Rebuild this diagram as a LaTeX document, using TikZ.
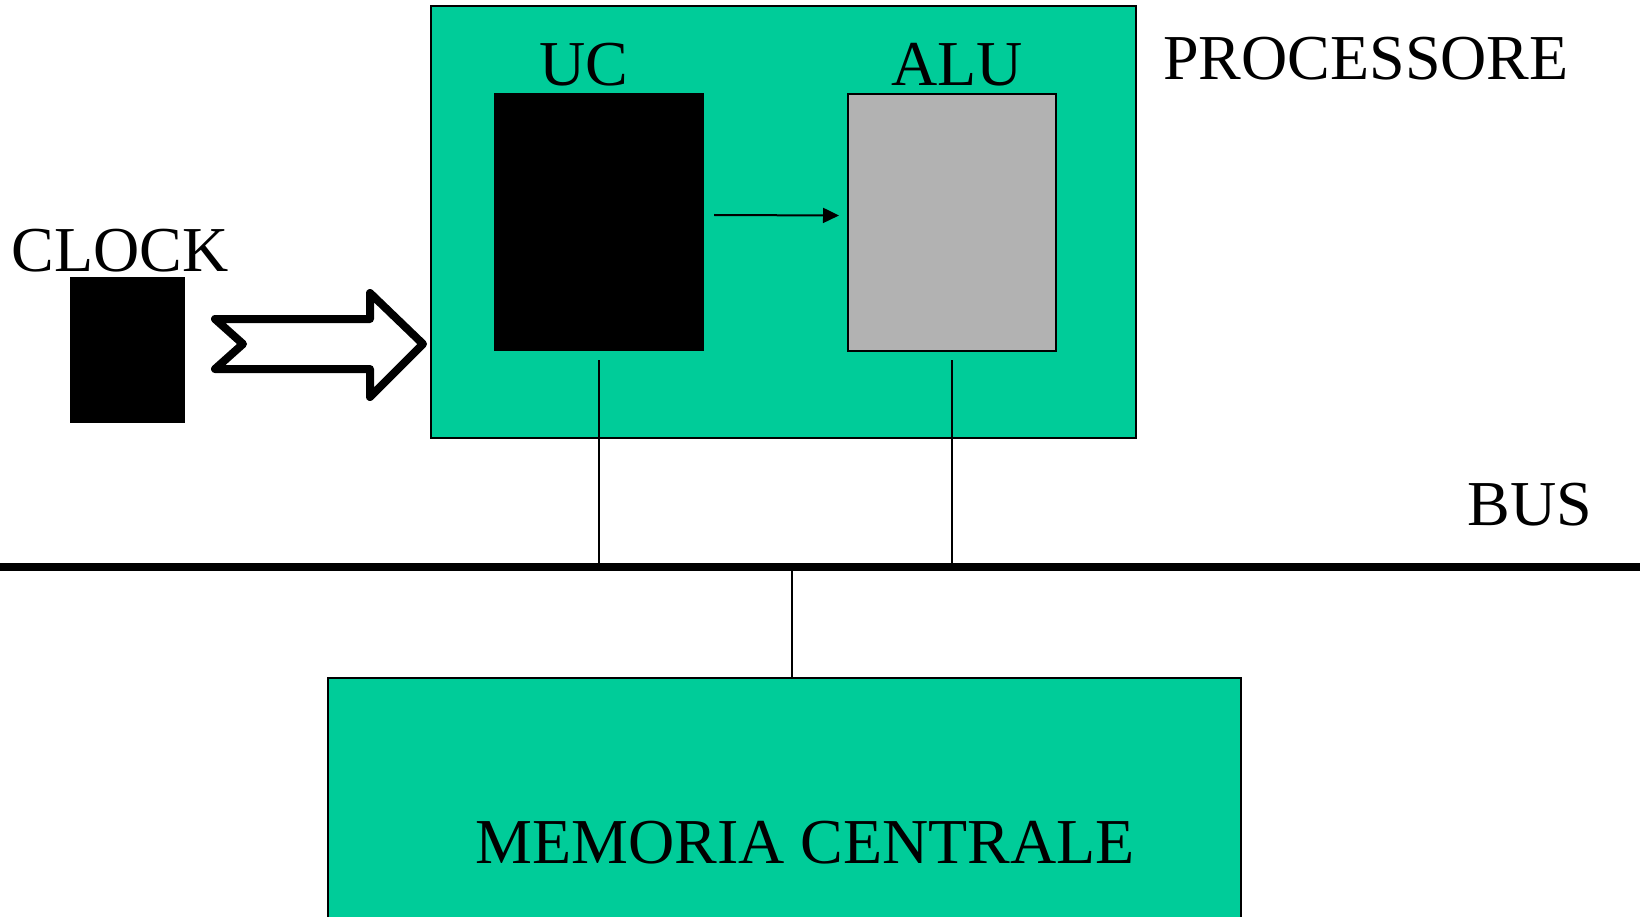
\documentclass[tikz,border=0pt]{standalone}
\usepackage{fontspec}
\setmainfont{Liberation Serif}
\usetikzlibrary{arrows.meta,positioning}
\definecolor{cpugreen}{RGB}{0,204,153}
\definecolor{alugray}{RGB}{178,178,178}

\begin{document}
\begin{tikzpicture}[x=1pt,y=-1pt, >={Triangle[length=16pt,width=15pt]},
  unit/.style={draw,line width=2pt,inner sep=0pt},
  lbl/.style={inner sep=0pt,font=\fontsize{64}{64}\selectfont},
  wire/.style={line width=2pt}]
\useasboundingbox (0,0) rectangle (1646,917);
% processor and its parts
\node[unit,fill=cpugreen,minimum width=705pt,minimum height=432pt] (proc) at (783.5,222) {};
\node[unit,draw=none,fill=black,minimum width=210pt,minimum height=258pt] (uc) at (599,222) {};
\node[unit,fill=alugray,minimum width=208pt,minimum height=257pt] (alu) at (952,222.5) {};
\node[lbl,anchor=base] (uclbl) at (584,86) {UC};
\node[lbl,anchor=base] (alulbl) at (957,86) {ALU};
\node[lbl,anchor=base west] (proclbl) at (1163,80) {PROCESSORE};
% clock
\node[unit,draw=none,fill=black,minimum width=115pt,minimum height=146pt] (clk) at (127.5,350) {};
\node[lbl,anchor=base west] (clklbl) at (11.5,272) {CLOCK};
\draw[line width=8pt,line join=round,fill=white] (215,319) -- (370,319) -- (370,293) -- (423,344) -- (370,397) -- (370,369) -- (215,369) -- (243,344) -- cycle;
% memory
\node[unit,fill=cpugreen,minimum width=913pt,minimum height=282pt] (mem) at (784.5,819) {};
\node[lbl,anchor=base] (memlbl) at (805,863) {MEMORIA CENTRALE};
% bus
\coordinate (busl) at (0,567);
\coordinate (busr) at (1640,567);
\coordinate (tap) at (791.5,567);
\draw[line width=8.4pt] (busl) -- (busr);
\node[lbl,anchor=base west] (buslbl) at (1467.5,525) {BUS};
% connectors
\draw[wire,->] ([xshift=9pt,yshift=7pt]uc.east) -- ([xshift=-8pt,yshift=7pt]alu.west);
\draw[wire] ([yshift=-8pt]uc.south) -- (uc.south |- busl);
\draw[wire] ([yshift=-8pt]alu.south) -- (alu.south |- busl);
\draw[wire] (tap) -- (tap |- mem.north);
\end{tikzpicture}
\end{document}
